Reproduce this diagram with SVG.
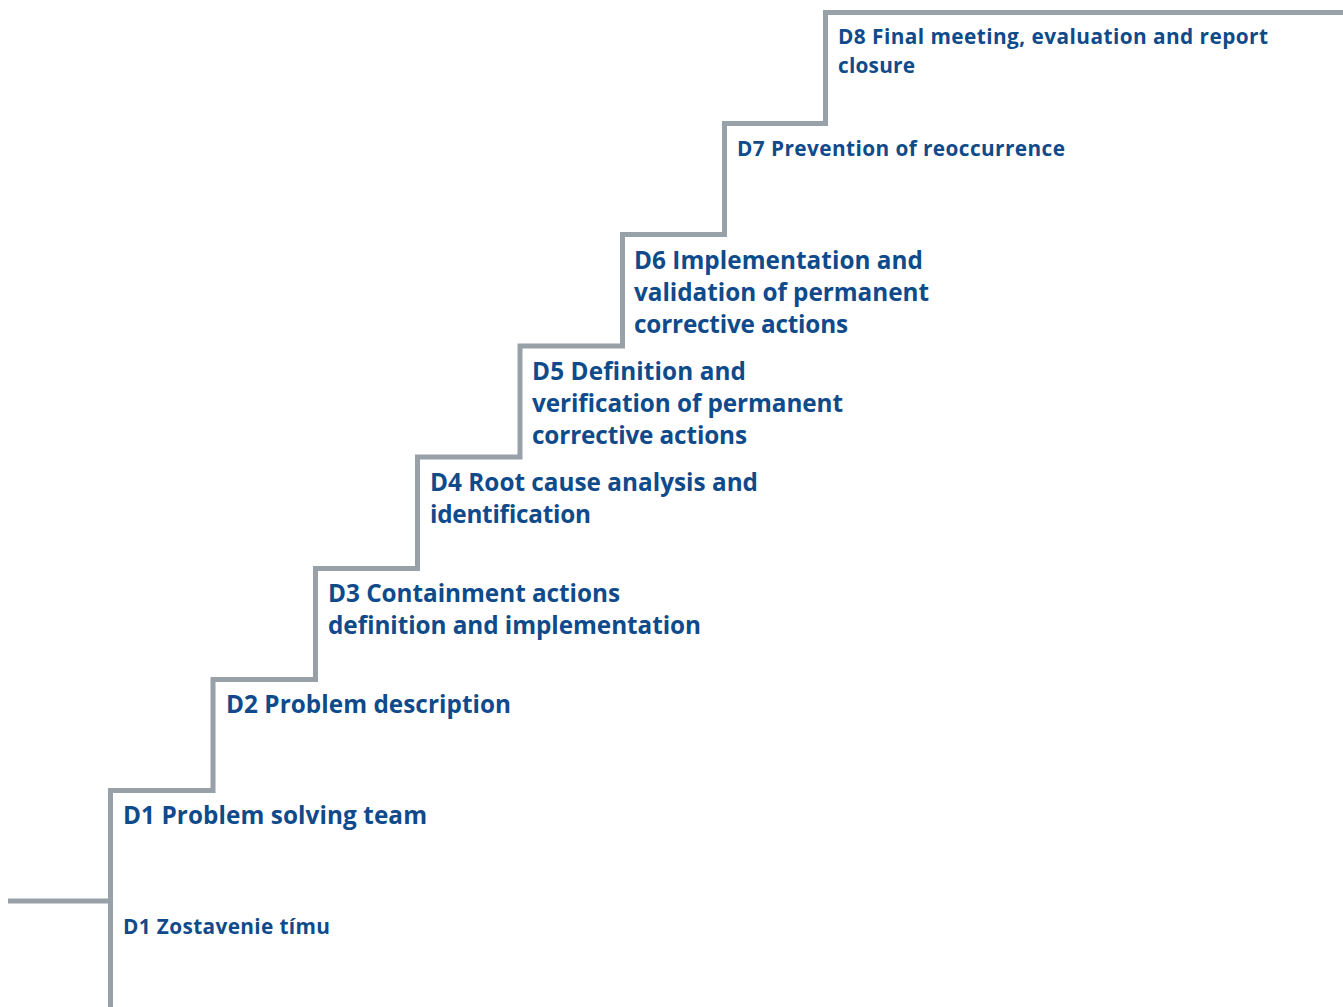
<svg xmlns="http://www.w3.org/2000/svg" width="1343" height="1007" viewBox="0 0 1343 1007">
<style>
.stair{fill:none;stroke:#98a0a8;stroke-width:5;stroke-linejoin:miter;stroke-linecap:butt}
.big{font-family:"Open Sans",Lato,"Liberation Sans",sans-serif;font-weight:bold;font-size:24.3px;fill:#0f4a8a}
.small{font-family:"Open Sans",Lato,"Liberation Sans",sans-serif;font-weight:bold;font-size:20.8px;fill:#0f4a8a}
</style>
<rect width="1343" height="1007" fill="#ffffff"/>
<g id="connectors">
<path class="stair" d="M110.5,1010 V790.5 H213 V679.5 H315.5 V568.5 H417.5 V457 H520 V346 H622.5 V234.5 H724.5 V123.5 H825.5 V12.5 H1343"/>
<path class="stair" d="M8,901 H110.5"/>
</g>
<g id="d1-sk"><text class="small" x="123" y="934" textLength="207">D1 Zostavenie tímu</text></g>
<g id="d1"><text class="big" x="123" y="824" textLength="304">D1 Problem solving team</text></g>
<g id="d2"><text class="big" x="226" y="713" textLength="285">D2 Problem description</text></g>
<g id="d3"><text class="big" x="328" y="602" textLength="292">D3 Containment actions</text><text class="big" x="328" y="634" textLength="373">definition and implementation</text></g>
<g id="d4"><text class="big" x="430" y="491" textLength="328">D4 Root cause analysis and</text><text class="big" x="430" y="523" textLength="161">identification</text></g>
<g id="d5"><text class="big" x="532" y="380" textLength="214">D5 Definition and</text><text class="big" x="532" y="412" textLength="311">verification of permanent</text><text class="big" x="532" y="444" textLength="215">corrective actions</text></g>
<g id="d6"><text class="big" x="634" y="269" textLength="289">D6 Implementation and</text><text class="big" x="634" y="301" textLength="295">validation of permanent</text><text class="big" x="634" y="333" textLength="214">corrective actions</text></g>
<g id="d7"><text class="small" x="737" y="155.5" textLength="328">D7 Prevention of reoccurrence</text></g>
<g id="d8"><text class="small" x="838" y="44" textLength="430">D8 Final meeting, evaluation and report</text><text class="small" x="838" y="72.5" textLength="77">closure</text></g>
</svg>
